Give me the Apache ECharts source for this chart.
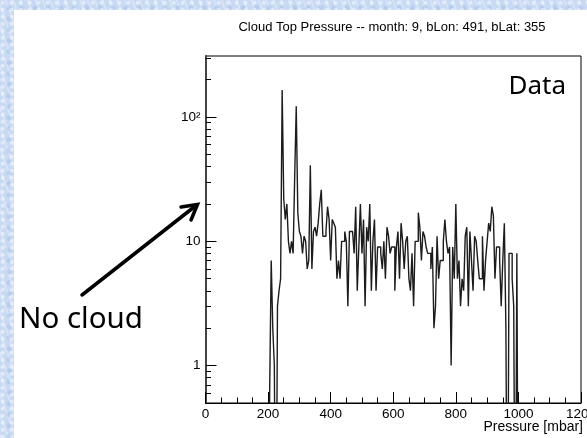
<!DOCTYPE html>
<html>
<head>
<meta charset="utf-8">
<script src="https://cdn.jsdelivr.net/npm/echarts@6.0.0/dist/echarts.min.js"></script>
<style>
html, body { margin: 0; padding: 0; }
#page {
    position: relative; width: 587px; height: 438px; overflow: hidden;
    background-color: #c8daf3;
    background-image:
        radial-gradient(circle at 30% 40%, rgba(255,255,255,0.45) 0 1.5px, transparent 2.5px),
        radial-gradient(circle at 70% 70%, rgba(150,180,230,0.35) 0 2px, transparent 3px),
        repeating-linear-gradient(70deg, rgba(255,255,255,0.25) 0 2px, transparent 2px 7px);
    background-size: 9px 7px, 13px 11px, auto;
}
#panel { position: absolute; left: 14px; top: 10px; width: 573px; height: 428px; background: #fff; }
#main { position: absolute; left: 0; top: 0; width: 587px; height: 438px; }
</style>
</head>
<body>
<div id="page">
    <div id="panel"></div>
    <div id="main"></div>
</div>
<script>
// histogram bins: 5 mbar wide, first bin starts at 200 mbar
var binStart = 200;
var binWidth = 5;

// entries per bin, 200 .. 465 mbar
var countsLow = [0, 0.6, 7, 2, 1, 0, 3, 4, 5, 165,
    22, 15, 20, 10, 8, 10, 8, 33, 122, 17,
    12, 11, 8, 11, 10, 6, 7, 41, 6, 12,
    13, 11, 14, 20, 26, 11, 11, 12, 19, 15,
    7, 15, 14, 13, 5, 7, 5, 10, 10, 12,
    10, 3, 12, 12];
// 470 .. 750 mbar
var countsMid = [12, 8, 19, 4, 9, 20, 8, 15, 3, 13,
    10, 20, 4, 10, 15, 4, 9, 9, 8, 6,
    10, 5, 13, 11, 8, 9, 9, 4, 9, 12,
    5, 14, 10, 6, 10, 11, 5, 4, 8, 3,
    10, 10, 17, 13, 7, 12, 11, 9, 8, 8,
    6, 9, 2, 3, 11, 5, 7];
// 755 .. 1000 mbar
var countsHigh = [7, 10, 15, 10, 8, 9, 1, 9, 5, 20,
    5, 7, 3, 5, 4, 11, 13, 3, 12, 7,
    4, 11, 10, 7, 5, 5, 11, 4, 7, 10,
    14, 12, 19, 16, 5, 9, 9, 7, 3, 7,
    14, 2, 0, 8, 8, 5, 3, 0, 8, 0];

var yMajorTicks = [1, 10, 100];
var yMinorTicks = [0.6, 0.7, 0.8, 0.9, 2, 3, 4, 5, 6, 7, 8, 9,
    20, 30, 40, 50, 60, 70, 80, 90, 200, 300];
var yRange = [0.5, 310];

var titleText = 'Cloud Top Pressure -- month: 9, bLon: 491, bLat: 355';

var counts = countsLow.concat(countsMid, countsHigh);
var points = [];
for (var i = 0; i < counts.length; i++) {
    // empty bins drop below the frame and get clipped, like ROOT does
    points.push([binStart + i * binWidth, counts[i] > 0 ? Math.log10(counts[i]) : -2]);
}
points.push([binStart + counts.length * binWidth, -2]);

var lg = function (v) { return Math.log10(v); };
var font = 'Liberation Sans';

var myChart = echarts.init(document.getElementById('main'), null, { renderer: 'canvas' });

var option = {
    backgroundColor: 'transparent',
    animation: false,
    grid: {
        left: 205.5, right: 6, top: 56, bottom: 35,
        outerBoundsMode: 'none',
        containLabel: false,
        show: true, backgroundColor: '#fff', borderColor: '#000', borderWidth: 1
    },
    xAxis: {
        type: 'value',
        min: 0, max: 1200, interval: 200,
        axisLine: { onZero: false, lineStyle: { color: '#000', width: 1 } },
        axisTick: { inside: true, length: 11, lineStyle: { color: '#000' } },
        minorTick: { show: true, splitNumber: 4, length: 5.5, lineStyle: { color: '#000' } },
        axisLabel: {
            margin: 4, color: '#000', fontSize: 13.5, fontFamily: font,
            showMaxLabel: true, hideOverlap: false,
            formatter: function (v) { return String(v); }
        },
        splitLine: { show: false },
        minorSplitLine: { show: false }
    },
    yAxis: [
        {
            type: 'value',
            min: lg(yRange[0]), max: lg(yRange[1]),
            axisLine: { show: true, onZero: false, lineStyle: { color: '#444', width: 2 } },
            axisTick: { show: true, inside: true, length: 11, customValues: yMajorTicks.map(lg),
                lineStyle: { color: '#000' } },
            axisLabel: {
                customValues: yMajorTicks.map(lg),
                margin: 5, color: '#000', fontSize: 13.5, fontFamily: font,
                formatter: function (v) {
                    var n = Math.round(v);
                    return n === 0 ? '1' : (n === 1 ? '10' : '10\u00B2');
                }
            },
            splitLine: { show: false }
        },
        {
            type: 'value',
            position: 'left',
            min: lg(yRange[0]), max: lg(yRange[1]),
            axisLine: { show: false },
            axisTick: { show: true, inside: true, length: 5.5, customValues: yMinorTicks.map(lg),
                lineStyle: { color: '#000' } },
            axisLabel: { show: false },
            splitLine: { show: false }
        }
    ],
    series: [
        {
            type: 'line',
            step: 'end',
            data: points,
            showSymbol: false,
            clip: true,
            lineStyle: { color: '#1c1c1c', width: 1.4 }
        }
    ],
    graphic: [
        {
            type: 'text', x: 392, y: 27,
            style: { text: titleText, font: '13px "Liberation Sans"', fill: '#000',
                textAlign: 'center', textVerticalAlign: 'middle' }
        },
        {
            type: 'text', x: 583, y: 427,
            style: { text: 'Pressure [mbar]', font: '14px "Liberation Sans"', fill: '#000',
                textAlign: 'right', textVerticalAlign: 'middle' }
        },
        {
            type: 'text', x: 566, y: 87,
            style: { text: 'Data', font: '26px "Noto Sans"', fill: '#000',
                textAlign: 'right', textVerticalAlign: 'middle' }
        },
        {
            type: 'text', x: 19, y: 320,
            style: { text: 'No cloud', font: '29.5px "Noto Sans"', fill: '#000',
                textAlign: 'left', textVerticalAlign: 'middle' }
        },
        {
            type: 'line',
            shape: { x1: 82, y1: 295, x2: 196, y2: 205.5 },
            style: { stroke: '#000', lineWidth: 3.5, lineCap: 'round' }
        },
        {
            type: 'polyline',
            shape: { points: [[181, 207], [197.5, 204.5], [191, 220]] },
            style: { stroke: '#000', fill: null, lineWidth: 3.5, lineCap: 'round', lineJoin: 'miter' }
        }
    ]
};

myChart.setOption(option);
</script>
</body>
</html>
